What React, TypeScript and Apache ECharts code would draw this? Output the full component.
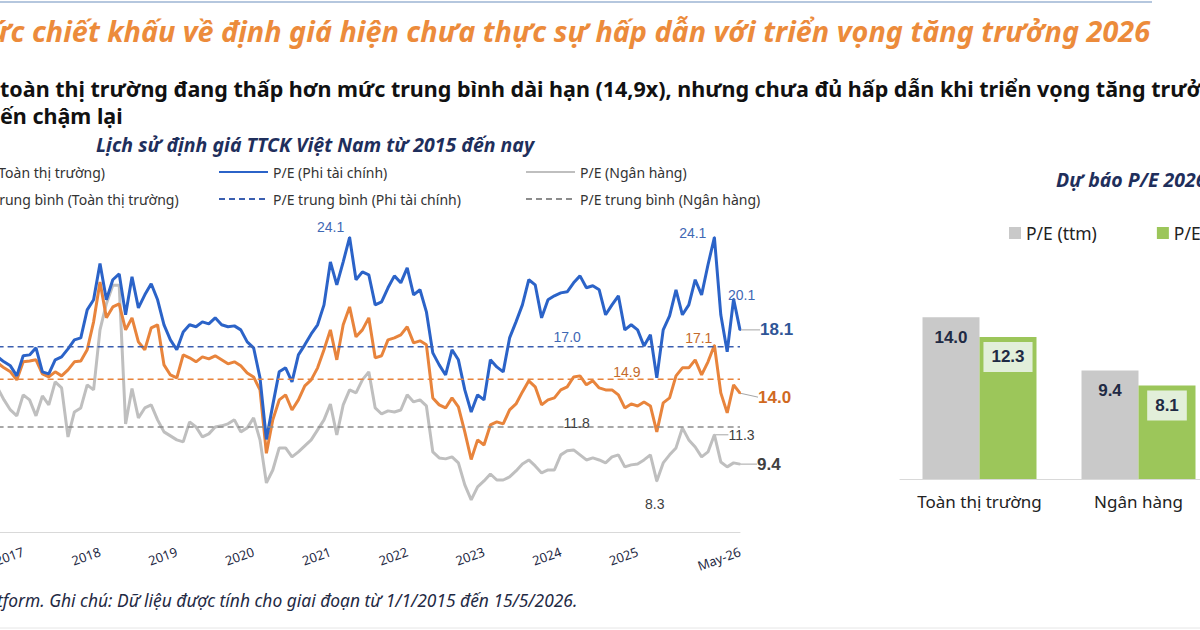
import * as echarts from 'echarts';
import { useEffect, useRef } from 'react';

const NUM_FONT = '"Liberation Sans", Arial, sans-serif';
const TXT_FONT = '"Noto Sans", sans-serif';

// tháng: 2016-09 .. 2026-05 (phần trước 09/2016 bị cắt khỏi khung hình)
const months: string[] = [];
for (let k = 0; k < 117; k++) {
  const m = 8 + k;
  months.push(`${2016 + Math.floor(m / 12)}-${String((m % 12) + 1).padStart(2, '0')}`);
}

// P/E Toàn thị trường
const peMarket = [
  15.96, 15.64, 15.38, 14.86, 16.03, 16.09, 16.16, 15.25, 15.05, 15.38,
  15.12, 15.51, 16.03, 16.09, 16.81, 18.62, 21.2, 18.88, 19.59, 19.79,
  18.1, 18.88, 17.32, 16.81, 18.23, 18.43, 15.83, 15.18, 14.99, 16.48,
  16.29, 16.03, 16.35, 16.22, 16.42, 16.16, 15.9, 16.03, 15.77, 15.31,
  15.05, 14.21, 10.1, 12.27, 13.56, 13.89, 12.91, 13.56, 14.47, 14.86,
  15.64, 16.81, 18.1, 16.16, 18.43, 19.59, 17.65, 18.1, 18.88, 16.29,
  16.42, 17.45, 17.58, 17.78, 18.3, 17.26, 17.39, 17.13, 13.69, 13.24,
  13.04, 13.69, 13.11, 11.49, 9.7, 10.97, 10.64, 11.94, 12.14, 12.01,
  12.91, 13.3, 14.08, 14.8, 14.41, 13.24, 13.56, 13.69, 14.21, 14.41,
  15.05, 15.12, 14.54, 14.8, 14.34, 14.21, 14.21, 13.89, 13.04, 13.3,
  13.17, 13.43, 13.17, 11.49, 13.37, 13.69, 15.12, 15.64, 15.64, 16.16,
  15.18, 16.03, 17.1, 14.02, 12.72, 14.54, 14.0,
];

// P/E Phi tài chính
const peNonFin = [
  16.35, 16.03, 15.77, 15.12, 16.42, 16.48, 16.94, 15.38, 15.25, 16.16,
  16.35, 16.87, 17.45, 17.58, 19.4, 20.05, 22.4, 20.05, 21.35, 21.73,
  19.08, 21.54, 19.53, 20.37, 21.09, 20.05, 18.43, 17.45, 16.81, 17.97,
  18.43, 18.3, 18.62, 18.49, 18.88, 18.43, 18.3, 18.36, 18.1, 17.32,
  16.94, 14.99, 11.0, 13.24, 15.38, 15.64, 14.73, 16.48, 17.13, 17.84,
  18.43, 19.72, 22.51, 21.02, 22.51, 24.1, 21.35, 21.86, 21.67, 19.72,
  19.92, 20.83, 21.6, 21.15, 22.12, 20.37, 20.7, 19.27, 16.61, 15.83,
  15.18, 16.81, 16.16, 14.21, 12.78, 13.89, 13.56, 16.16, 15.7, 15.38,
  17.58, 18.62, 19.72, 21.35, 21.02, 18.88, 20.05, 20.31, 20.5, 20.57,
  21.15, 21.6, 20.83, 20.96, 20.7, 19.08, 19.72, 20.31, 18.1, 18.43,
  18.1, 17.06, 17.78, 14.99, 18.1, 19.01, 20.7, 19.08, 19.72, 21.35,
  20.37, 22.32, 24.1, 19.08, 16.68, 20.1, 18.1,
];

// P/E Ngân hàng
const peBank = [
  14.34, 13.56, 12.91, 12.53, 13.89, 13.56, 12.53, 13.82, 13.24, 14.73,
  14.34, 11.16, 12.78, 13.04, 14.54, 14.21, 18.1, 19.8, 21.0, 21.0,
  12.0, 14.3, 12.4, 13.04, 13.24, 12.27, 11.49, 11.23, 10.97, 10.84,
  12.14, 11.81, 11.16, 11.36, 11.81, 11.88, 12.01, 12.27, 11.49, 11.75,
  12.4, 10.97, 8.18, 9.02, 10.45, 10.45, 9.87, 10.19, 10.58, 10.97,
  11.62, 12.27, 13.3, 11.29, 13.24, 14.21, 14.02, 14.86, 15.38, 13.04,
  12.65, 12.85, 12.78, 12.91, 13.89, 13.43, 13.56, 13.17, 10.19, 9.8,
  9.74, 9.87, 9.48, 8.05, 7.08, 7.92, 8.31, 8.76, 8.37, 8.37,
  8.57, 8.96, 9.41, 9.67, 9.28, 8.83, 9.02, 9.02, 10.0, 10.26,
  10.32, 10.0, 9.67, 9.8, 9.67, 9.48, 9.87, 10.0, 9.22, 9.35,
  9.41, 9.67, 10.0, 8.3, 9.48, 10.0, 10.45, 11.75, 10.97, 10.51,
  9.87, 10.19, 11.3, 9.54, 9.22, 9.48, 9.4,
];

const avgMarket = 14.9;
const avgNonFin = 17.0;
const avgBank = 11.8;

const forecastCats = ['Toàn thị trường', 'Ngân hàng'];
const peTtm = [14.0, 9.4];
const pe2026 = [12.3, 8.1];

type Note = {
  index: number;
  position: string;
  dx?: number;
  dy?: number;
  size?: number;
  bold?: boolean;
  color: string;
  guide?: boolean;
};

const BLUE = '#2B63C8';
const ORANGE = '#E8843C';
const GREY = '#BFBFBF';

const blueNotes: Note[] = [
  { index: 55, position: 'top', dx: -19, dy: 3, color: '#3F68B4' },
  { index: 112, position: 'left', dx: -2, dy: -4, color: '#3F68B4' },
  { index: 115, position: 'top', dx: 8, dy: 9, color: '#3F68B4' },
  { index: 116, position: 'right', dx: 14, size: 17, bold: true, color: '#2F5597', guide: true },
];
const orangeNotes: Note[] = [
  { index: 112, position: 'left', dx: 4, dy: -7, color: '#C46A2C' },
  { index: 116, position: 'right', dx: 12, dy: 4, size: 17, bold: true, color: '#D0691F', guide: true },
];
const greyNotes: Note[] = [
  { index: 103, position: 'bottom', dx: -2, dy: 10, color: '#404040' },
  { index: 112, position: 'right', dx: 8, color: '#404040', guide: true },
  { index: 116, position: 'right', dx: 11, size: 17, bold: true, color: '#404040', guide: true },
];

const fmt = (p: any) => {
  const v = Array.isArray(p.value) ? p.value[1] : p.value;
  return Number(v).toFixed(1);
};

function withNotes(values: number[], notes: Note[]) {
  return values.map((v, i) => {
    const n = notes.find((x) => x.index === i);
    if (!n) return v;
    return {
      value: v,
      symbol: 'circle',
      symbolSize: 2,
      label: {
        show: true,
        position: n.position,
        formatter: fmt,
        color: n.color,
        fontSize: n.size ?? 14,
        fontWeight: n.bold ? 'bold' : 'normal',
        fontFamily: NUM_FONT,
      },
      labelLine: { show: !!n.guide, lineStyle: { color: '#A6A6A6', width: 1 } },
    };
  });
}

function peSeries(name: string, values: number[], color: string, notes: Note[]) {
  return {
    name,
    type: 'line',
    xAxisIndex: 0,
    yAxisIndex: 0,
    data: withNotes(values, notes),
    symbol: 'none',
    showSymbol: true,
    showAllSymbol: true,
    lineStyle: { color, width: 3 },
    itemStyle: { color },
    silent: true,
    z: 2,
    labelLayout: (params: any) => {
      const n = notes.find((x) => x.index === params.dataIndex);
      if (!n) return {};
      return { dx: n.dx ?? 0, dy: n.dy ?? 0 };
    },
  };
}

function avgSeries(name: string, avg: number, labelAt: number, color: string, labelColor: string, offset: number[]) {
  return {
    name,
    type: 'line',
    xAxisIndex: 0,
    yAxisIndex: 0,
    data: [
      [0, avg],
      {
        value: [labelAt, avg],
        symbol: 'circle',
        symbolSize: 1,
        label: { show: true, position: 'top', offset, formatter: fmt, color: labelColor, fontSize: 14, fontFamily: NUM_FONT },
      },
      [months.length - 1, avg],
    ],
    symbol: 'none',
    showSymbol: true,
    showAllSymbol: true,
    lineStyle: { color, width: 1.5, type: [6, 4] },
    itemStyle: { color },
    silent: true,
    z: 4,
  };
}

const legendCommon = {
  orient: 'vertical',
  top: 165,
  padding: 0,
  itemWidth: 49,
  itemHeight: 14,
  itemGap: 13,
  selectedMode: false,
  itemStyle: { opacity: 0 },
  textStyle: { fontSize: 14, color: '#333', fontFamily: TXT_FONT },
};

const textEl = (text: string, x: number, y: number, font: string, fill: string, align = 'left') => ({
  type: 'text',
  x,
  y,
  silent: true,
  style: { text, font, fill, textAlign: align, textVerticalAlign: 'middle' },
});

export default function App() {
  const ref = useRef<HTMLDivElement | null>(null);

  useEffect(() => {
    if (!ref.current) return;
    const chart = echarts.init(ref.current, undefined, { renderer: 'svg' });
    const last = months.length - 1;
    chart.setOption({
      animation: false,
      backgroundColor: '#fff',
      graphic: [
        { type: 'line', silent: true, shape: { x1: 0, y1: 2, x2: 1152, y2: 2 }, style: { stroke: '#9DB5D3', lineWidth: 1.5 } },
        textEl(
          'ức chiết khấu về định giá hiện chưa thực sự hấp dẫn với triển vọng tăng trưởng 2026',
          -10, 30, `italic bold 28.8px ${TXT_FONT}`, '#EC8B3B',
        ),
        textEl(
          'toàn thị trường đang thấp hơn mức trung bình dài hạn (14,9x), nhưng chưa đủ hấp dẫn khi triển vọng tăng trưởng',
          0, 88, `bold 21.5px ${TXT_FONT}`, '#111',
        ),
        textEl('ến chậm lại', 0, 115, `bold 21.5px ${TXT_FONT}`, '#111'),
        textEl('Lịch sử định giá TTCK Việt Nam từ 2015 đến nay', 315, 144, `italic bold 19.5px ${TXT_FONT}`, '#1F2F5C', 'center'),
        textEl('Dự báo P/E 2026', 1056, 179, `italic bold 19.5px ${TXT_FONT}`, '#1F2F5C'),
        textEl(
          'tform. Ghi chú: Dữ liệu được tính cho giai đoạn từ 1/1/2015 đến 15/5/2026.',
          -3, 600, `italic 17.4px ${TXT_FONT}`, '#1F2A44',
        ),
        { type: 'line', silent: true, shape: { x1: 0, y1: 628, x2: 1200, y2: 628 }, style: { stroke: '#E6E6E6', lineWidth: 1 } },
      ],
      legend: [
        { ...legendCommon, left: -86, data: ['P/E (Toàn thị trường)', 'P/E trung bình (Toàn thị trường)'] },
        { ...legendCommon, left: 218, data: ['P/E (Phi tài chính)', 'P/E trung bình (Phi tài chính)'] },
        { ...legendCommon, left: 525, data: ['P/E (Ngân hàng)', 'P/E trung bình (Ngân hàng)'] },
        {
          left: 1009,
          top: 224,
          width: 400,
          padding: 0,
          orient: 'horizontal',
          icon: 'rect',
          itemWidth: 12,
          itemHeight: 12,
          itemGap: 60,
          selectedMode: false,
          data: ['P/E (ttm)', 'P/E 2026F'],
          textStyle: { fontSize: 17.5, color: '#222', fontFamily: TXT_FONT },
        },
      ],
      grid: [
        { left: -2.4, right: 460, top: 208, bottom: 98, outerBoundsMode: 'none', containLabel: false },
        { left: 900, width: 318, top: 248, bottom: 151, outerBoundsMode: 'none', containLabel: false },
      ],
      xAxis: [
        {
          type: 'category',
          gridIndex: 0,
          data: months,
          boundaryGap: false,
          axisLine: { lineStyle: { color: '#D9D9D9', width: 1 } },
          axisTick: { show: false },
          splitLine: { show: false },
          axisLabel: {
            interval: (i: number, v: string) => (v.endsWith('-01') && i < last - 6) || i === last,
            showMaxLabel: true,
            rotate: 20,
            align: 'right',
            verticalAlign: 'middle',
            margin: 19,
            color: '#1F2A44',
            fontSize: 13,
            fontFamily: TXT_FONT,
            formatter: (v: string) => (v === months[last] ? 'May-26' : v.slice(0, 4)),
          },
        },
        {
          type: 'category',
          gridIndex: 1,
          data: forecastCats,
          axisLine: { lineStyle: { color: '#D9D9D9', width: 1 } },
          axisTick: { show: false },
          axisLabel: { interval: 0, margin: 14, color: '#222', fontSize: 17, fontFamily: TXT_FONT },
        },
      ],
      yAxis: [
        { type: 'value', gridIndex: 0, min: 5, max: 26, show: false },
        { type: 'value', gridIndex: 1, min: 0, max: 20, show: false },
      ],
      series: [
        peSeries('P/E (Ngân hàng)', peBank, GREY, greyNotes),
        peSeries('P/E (Toàn thị trường)', peMarket, ORANGE, orangeNotes),
        peSeries('P/E (Phi tài chính)', peNonFin, BLUE, blueNotes),
        avgSeries('P/E trung bình (Toàn thị trường)', avgMarket, 98, ORANGE, '#C46A2C', [2, 5]),
        avgSeries('P/E trung bình (Phi tài chính)', avgNonFin, 89, '#3B5FB0', '#3F68B4', [0, 3]),
        avgSeries('P/E trung bình (Ngân hàng)', avgBank, 90, '#8C8C8C', '#404040', [3, 8]),
        {
          name: 'P/E (ttm)',
          type: 'bar',
          xAxisIndex: 1,
          yAxisIndex: 1,
          data: peTtm,
          barWidth: 57,
          barGap: '0%',
          itemStyle: { color: '#C9C9C9' },
          silent: true,
          label: {
            show: true,
            position: 'insideTop',
            offset: [0, 7],
            formatter: fmt,
            fontSize: 17,
            fontWeight: 'bold',
            color: '#1F2A44',
            fontFamily: NUM_FONT,
          },
        },
        {
          name: 'P/E 2026F',
          type: 'bar',
          xAxisIndex: 1,
          yAxisIndex: 1,
          data: pe2026,
          barWidth: 57,
          barGap: '0%',
          itemStyle: { color: '#9CC65A' },
          silent: true,
          label: {
            show: true,
            position: 'insideTop',
            distance: 5,
            formatter: fmt,
            fontSize: 17,
            lineHeight: 18,
            fontWeight: 'bold',
            color: '#1F2A44',
            fontFamily: NUM_FONT,
            backgroundColor: '#E2EFDA',
            padding: [6, 8],
          },
        },
      ],
    } as any);
    return () => chart.dispose();
  }, []);

  return (
    <div
      ref={ref}
      style={{ position: 'fixed', left: 0, top: 0, width: 1200, height: 630, background: '#fff' }}
    />
  );
}
